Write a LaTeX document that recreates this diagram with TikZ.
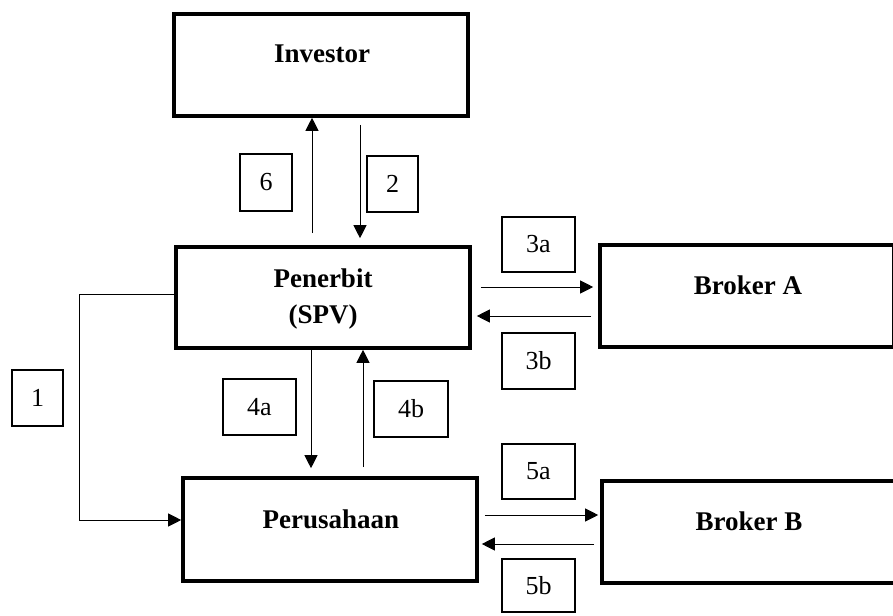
\documentclass[tikz,border=0pt]{standalone}
\usepackage{fontspec}
\setmainfont{Liberation Serif}
\usetikzlibrary{arrows.meta,calc}
\begin{document}
\begin{tikzpicture}[x=1pt,y=-1pt,
  mainbox/.style={draw,line width=3.6pt,minimum width=294pt,inner sep=0pt},
  tagbox/.style={draw,line width=1.6pt,inner sep=0pt,font=\fontsize{26}{30}\selectfont},
  title/.style={font=\fontsize{27}{32}\selectfont\bfseries,anchor=base,inner sep=0pt},
  flow/.style={line width=1pt,-{Triangle[length=13pt,width=13pt]}}]

\useasboundingbox (0,0) rectangle (893,615);
\clip (0,0) rectangle (893,615);

% main parties
\node[mainbox,minimum height=102pt] (inv) at (321,65) {};
\node[mainbox,minimum height=101pt] (pen) at (323,297.5) {};
\node[mainbox,minimum height=103pt] (per) at (330,529.5) {};
\node[mainbox,minimum height=102pt] (bka) at (747,296) {};
\node[mainbox,minimum height=102pt] (bkb) at (749,532) {};

\node[title] (invt) at (322,63) {Investor};
\node[title] (pent1) at (323,287) {Penerbit};
\node[title] (pent2) at (323,323) {(SPV)};
\node[title] (pert) at (331,528) {Perusahaan};
\node[title] (bkat) at (748,294) {Broker A};
\node[title] (bkbt) at (749,530) {Broker B};

% step numbers
\node[tagbox,minimum width=51pt,minimum height=56pt] (t1) at (37.5,398) {1};
\node[tagbox,minimum width=51pt,minimum height=56pt] (t2) at (392.5,184) {2};
\node[tagbox,minimum width=73pt,minimum height=55pt] (t3a) at (538.5,244.5) {3a};
\node[tagbox,minimum width=73pt,minimum height=56pt] (t3b) at (538.5,361) {3b};
\node[tagbox,minimum width=73pt,minimum height=56pt] (t4a) at (259.5,407) {4a};
\node[tagbox,minimum width=74pt,minimum height=56pt] (t4b) at (411,409) {4b};
\node[tagbox,minimum width=73pt,minimum height=55pt] (t5a) at (538.5,471.5) {5a};
\node[tagbox,minimum width=73pt,minimum height=53pt] (t5b) at (538.5,585.5) {5b};
\node[tagbox,minimum width=52pt,minimum height=57pt] (t6) at (266,182.5) {6};

% connector lanes
\coordinate (x6) at (312,0);
\coordinate (x2) at (360,0);
\coordinate (x4a) at (311,0);
\coordinate (x4b) at (363,0);
\coordinate (y3a) at (0,287);
\coordinate (y3b) at (0,316);
\coordinate (y5a) at (0,515);
\coordinate (y5b) at (0,544);
\coordinate (c1) at (79,294);
\coordinate (c2) at (79,520);

% connectors
\draw[flow] (pen.west |- c1) -- (c1) -- (c2) -- (per.west |- c2);
\draw[flow] (x2 |- inv.south) ++(0,7) -- ($(x2 |- pen.north)+(0,-7)$);
\draw[flow] ($(x6 |- pen.north)+(0,-12)$) -- (x6 |- inv.south);
\draw[flow] ($(pen.east |- y3a)+(9,0)$) -- ($(bka.west |- y3a)+(-5,0)$);
\draw[flow] ($(bka.west |- y3b)+(-7,0)$) -- ($(pen.east |- y3b)+(5,0)$);
\draw[flow] (x4a |- pen.south) -- ($(x4a |- per.north)+(0,-8)$);
\draw[flow] ($(x4b |- per.north)+(0,-9)$) -- (x4b |- pen.south);
\draw[flow] ($(per.east |- y5a)+(6,0)$) -- ($(bkb.west |- y5a)+(-2,0)$);
\draw[flow] ($(bkb.west |- y5b)+(-6,0)$) -- ($(per.east |- y5b)+(3,0)$);
\end{tikzpicture}
\end{document}
